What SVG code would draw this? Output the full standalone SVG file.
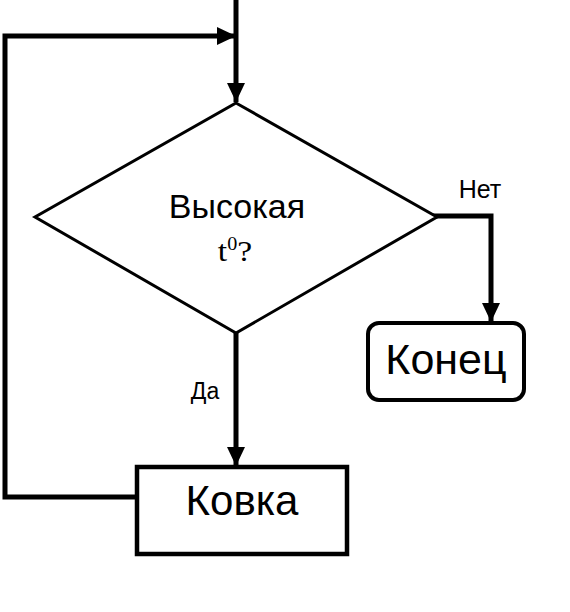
<svg xmlns="http://www.w3.org/2000/svg" width="570" height="612" viewBox="0 0 570 612">
<style>
.c{fill:none;stroke:#000;stroke-width:5;stroke-linejoin:miter}
.t{font-family:"Liberation Sans",Arial,sans-serif;fill:#000}
</style>
<defs>
<marker id="ah" markerUnits="userSpaceOnUse" markerWidth="20" markerHeight="18" refX="19" refY="9" orient="auto">
<path d="M0,0 L19,9 L0,18 Z" fill="#000"/>
</marker>
</defs>
<rect width="570" height="612" fill="#fff"/>
<g id="connectors">
<line class="c" x1="236" y1="0" x2="236" y2="102" marker-end="url(#ah)"/>
<polyline class="c" points="137,497 5,497 5,36 236,36" marker-end="url(#ah)"/>
<line class="c" x1="236" y1="333" x2="236" y2="466" marker-end="url(#ah)"/>
<polyline class="c" points="428,216 491,216 491,322" marker-end="url(#ah)"/>
<text class="t" x="205" y="399" font-size="23" text-anchor="middle">Да</text>
<text class="t" x="480" y="198" font-size="25" text-anchor="middle">Нет</text>
</g>
<g id="decision">
<polygon points="236,103 437,217 236,333 35,217" fill="#fff" stroke="#000" stroke-width="3"/>
<text class="t" x="237" y="218" font-size="34" text-anchor="middle">Высокая</text>
<text transform="translate(235,261) scale(1.12,1)" font-family="'Liberation Serif','Times New Roman',serif" font-size="30" text-anchor="middle">t<tspan font-size="18" dy="-11">0</tspan><tspan dy="11">?</tspan></text>
</g>
<g id="end">
<rect x="368" y="323" width="156" height="77" rx="11" fill="#fff" stroke="#000" stroke-width="4"/>
<text class="t" x="446" y="374" font-size="43" text-anchor="middle">Конец</text>
</g>
<g id="forge">
<rect x="137" y="467" width="210" height="87" fill="#fff" stroke="#000" stroke-width="4.5"/>
<text class="t" x="242" y="515" font-size="42" text-anchor="middle">Ковка</text>
</g>
</svg>
